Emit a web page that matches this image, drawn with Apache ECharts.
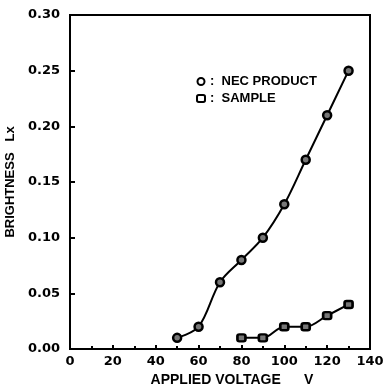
<!DOCTYPE html>
<html>
<head>
<meta charset="utf-8">
<script src="https://cdn.jsdelivr.net/npm/echarts@6/dist/echarts.min.js"></script>
<style>
  html, body { margin: 0; padding: 0; background: #fff; }
  #myChart { width: 386px; height: 388px; }
</style>
</head>
<body>
<div id="myChart"></div>
<script>
// applied voltage (V) vs brightness (Lx)
var necVoltage = [50, 60, 70, 80, 90, 100, 110, 120, 130]
var necBrightness = [0.01, 0.02, 0.06, 0.08, 0.10, 0.13, 0.17, 0.21, 0.25]
var sampleVoltage = [80, 90, 100, 110, 120, 130]
var sampleBrightness = [0.01, 0.01, 0.02, 0.02, 0.03, 0.04]

function pairs (xs, ys) {
  return xs.map(function (x, i) { return [x, ys[i]] })
}

var font = 'Liberation Sans'
var tickFont = 'DejaVu Sans'
var myChart = echarts.init(document.getElementById('myChart'))
myChart.setOption({
  animation: false,
  grid: {
    left: 70,
    right: 16,
    top: 15,
    bottom: 39,
    outerBoundsMode: 'none',
    show: true,
    borderColor: '#000',
    borderWidth: 2
  },
  legend: {
    orient: 'vertical',
    left: 191,
    top: 70,
    itemWidth: 8,
    itemHeight: 7,
    itemGap: 4,
    textStyle: { fontFamily: font, fontWeight: 'bold', fontSize: 13, color: '#000' },
    formatter: function (name) { return ':  ' + name },
    data: [
      { name: 'NEC PRODUCT', icon: 'circle', itemStyle: { color: '#fff', borderColor: '#000', borderWidth: 2 } },
      { name: 'SAMPLE', icon: 'roundRect', itemStyle: { color: '#fff', borderColor: '#000', borderWidth: 2 } }
    ]
  },
  xAxis: {
    type: 'value',
    min: 0,
    max: 140,
    interval: 20,
    name: 'APPLIED VOLTAGE      V',
    nameLocation: 'middle',
    nameGap: 22,
    nameTextStyle: { fontFamily: font, fontWeight: 'bold', fontSize: 14, color: '#000', padding: [0, 0, 0, 24] },
    axisLine: { lineStyle: { color: '#000', width: 2 } },
    axisTick: { inside: true, length: 4, lineStyle: { color: '#000', width: 2 } },
    minorTick: { show: true, splitNumber: 2, length: 3, lineStyle: { color: '#000', width: 2 } },
    axisLabel: { fontFamily: tickFont, fontWeight: 'bold', fontSize: 13, color: '#000', margin: 6 },
    splitLine: { show: false }
  },
  yAxis: {
    type: 'value',
    min: 0,
    max: 0.3,
    interval: 0.05,
    name: 'BRIGHTNESS   Lx',
    nameLocation: 'middle',
    nameGap: 51,
    nameTextStyle: { fontFamily: font, fontWeight: 'bold', fontSize: 13, color: '#000' },
    axisLine: { lineStyle: { color: '#000', width: 2 } },
    axisTick: { inside: true, length: 5, lineStyle: { color: '#000', width: 2 } },
    axisLabel: {
      fontFamily: tickFont,
      fontWeight: 'bold',
      fontSize: 13,
      color: '#000',
      margin: 10,
      formatter: function (v) { return v.toFixed(2) }
    },
    splitLine: { show: false }
  },
  series: [
    {
      name: 'NEC PRODUCT',
      type: 'line',
      smooth: 0.35,
      data: pairs(necVoltage, necBrightness),
      symbol: 'circle',
      symbolSize: 8,
      itemStyle: { color: '#777', borderColor: '#000', borderWidth: 2.5 },
      lineStyle: { color: '#000', width: 2 }
    },
    {
      name: 'SAMPLE',
      type: 'line',
      smooth: 0.35,
      data: pairs(sampleVoltage, sampleBrightness),
      symbol: 'roundRect',
      symbolSize: [8, 7],
      itemStyle: { color: '#777', borderColor: '#000', borderWidth: 2.5 },
      lineStyle: { color: '#000', width: 2 }
    }
  ]
})
</script>
</body>
</html>
